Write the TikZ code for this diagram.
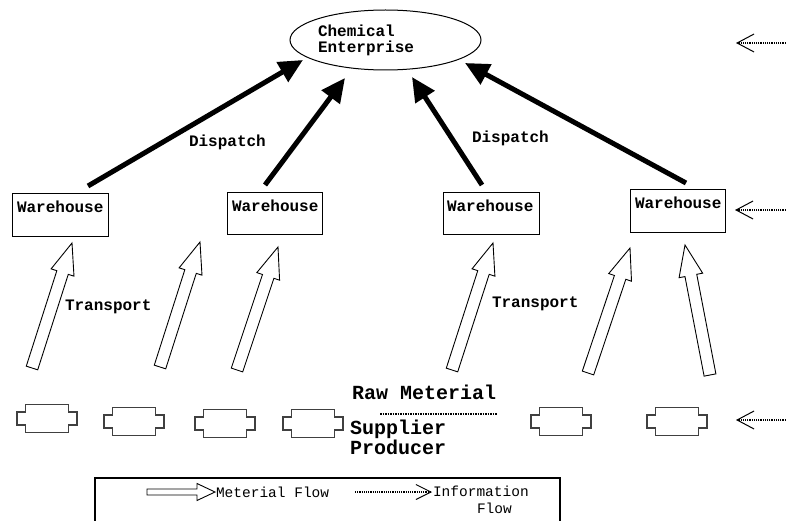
\documentclass[tikz,border=0pt]{standalone}
\usepackage{fontspec}
\setmonofont{Liberation Mono}
\usetikzlibrary{arrows.meta,calc,shapes.geometric}
\newcommand{\harrow}[6]{% name, tail, tip, shaft half, head half, head length
  \coordinate (#1-b) at ($(#3)!#6!(#2)$);
  \draw[hollow] ($(#2)!#4!90:(#3)$) -- ($(#1-b)!#4!90:(#3)$) -- ($(#1-b)!#5!90:(#3)$) -- (#3)
     -- ($(#1-b)!#5!-90:(#3)$) -- ($(#1-b)!#4!-90:(#3)$) -- ($(#2)!#4!-90:(#3)$) -- cycle;
}
\begin{document}
\begin{tikzpicture}[x=1pt,y=-1pt,
  every node/.style={inner sep=0pt, outer sep=0pt},
  lbl/.style={font=\ttfamily\bfseries\fontsize{16}{16}\selectfont, anchor=west},
  big/.style={font=\ttfamily\bfseries\fontsize{20}{20}\selectfont, anchor=west},
  leg/.style={font=\ttfamily\fontsize{14.5}{14.5}\selectfont, anchor=west},
  whbox/.style={draw, line width=1pt, minimum width=96pt, minimum height=42pt},
  dispatch/.style={line width=5pt, -{Triangle[length=24pt,width=22pt]}},
  info/.style={densely dotted, line width=1.2pt, -{Straight Barb[length=17pt,width=18pt,line width=1pt]}},
  hollow/.style={draw, line width=0.9pt, fill=white, line join=miter},
  supp/.style={draw=black!75, line width=1.2pt},
  supplier/.pic={\draw[supp] (-21.5,-14) -- (21.5,-14) -- (21.5,-6.5) -- (30,-6.5) -- (30,6.5) -- (21.5,6.5) -- (21.5,14) -- (-21.5,14) -- (-21.5,6.5) -- (-30,6.5) -- (-30,-6.5) -- (-21.5,-6.5) -- cycle;}]
\useasboundingbox (0,0) rectangle (786,521);
\fill[white] (0,0) rectangle (786,521);

% enterprise
\node[draw, ellipse, line width=1pt, minimum width=191pt, minimum height=60pt] (E) at (385.5,40) {};
\node[lbl, align=left, anchor=north west] (Et) at (318,25) {Chemical\\Enterprise};

% warehouses
\node[whbox] (W1) at (60,215) {};
\node[whbox, minimum width=95pt, minimum height=41pt] (W2) at (274.5,213.5) {};
\node[whbox, minimum height=41pt] (W3) at (491,213.5) {};
\node[whbox, minimum width=95pt] (W4) at (677.5,211) {};
\node[lbl] (W1t) at (17,207) {Warehouse};
\node[lbl] (W2t) at (232,206) {Warehouse};
\node[lbl] (W3t) at (447,206) {Warehouse};
\node[lbl] (W4t) at (635,203) {Warehouse};

% dispatch arrows
\coordinate (d1s) at (88,186);  \coordinate (d1e) at (303,60);
\coordinate (d2s) at (265,185); \coordinate (d2e) at (345,78);
\coordinate (d3s) at (482,185); \coordinate (d3e) at (412,77);
\coordinate (d4s) at (686,183); \coordinate (d4e) at (465,63);
\draw[dispatch] (d1s) -- (d1e);
\draw[dispatch] (d2s) -- (d2e);
\draw[dispatch] (d3s) -- (d3e);
\draw[dispatch] (d4s) -- (d4e);
\node[lbl] (D1) at (189,142) {Dispatch};
\node[lbl] (D2) at (472,138) {Dispatch};

% transport arrows
\coordinate (t1s) at (32,368);  \coordinate (t1e) at (72,243);
\coordinate (t2s) at (160,367); \coordinate (t2e) at (200,242);
\coordinate (t3s) at (237,370); \coordinate (t3e) at (278,247);
\coordinate (t4s) at (452,370); \coordinate (t4e) at (493,243);
\coordinate (t5s) at (588,373); \coordinate (t5e) at (630,248);
\coordinate (t6s) at (710,375); \coordinate (t6e) at (685,245);
\harrow{h1}{t1s}{t1e}{6pt}{12pt}{31pt}
\harrow{h2}{t2s}{t2e}{6pt}{12pt}{31pt}
\harrow{h3}{t3s}{t3e}{6pt}{12pt}{31pt}
\harrow{h4}{t4s}{t4e}{6pt}{12pt}{31pt}
\harrow{h5}{t5s}{t5e}{6pt}{12pt}{31pt}
\harrow{h6}{t6s}{t6e}{6pt}{12pt}{31pt}
\node[lbl] (T1) at (65,307) {Transport};
\node[lbl] (T2) at (492,304) {Transport};

% suppliers
\pic (s1) at (47,418.5) {supplier};
\pic (s2) at (134,421.5) {supplier};
\pic (s3) at (225,423.5) {supplier};
\pic (s4) at (313,423.5) {supplier};
\pic (s5) at (561,421.5) {supplier};
\pic (s6) at (677,421.5) {supplier};
\node[big] (RM) at (352,392) {Raw Meterial};
\coordinate (dl1) at (380,414); \coordinate (dl2) at (497,414);
\draw[densely dotted, line width=1.5pt] (dl1) -- (dl2);
\node[big, align=left, anchor=north west] (SP) at (350,420) {Supplier\\Producer};

% info arrows
\coordinate (i1s) at (788,43);  \coordinate (i1e) at (736,43);
\coordinate (i2s) at (788,210); \coordinate (i2e) at (735,210);
\coordinate (i3s) at (788,420); \coordinate (i3e) at (736,420);
\draw[info] (i1s) -- (i1e);
\draw[info] (i2s) -- (i2e);
\draw[info] (i3s) -- (i3e);

% legend
\draw[line width=1.5pt] (95,530) -- (95,478) -- (560,478) -- (560,530);
\coordinate (la1) at (147,492); \coordinate (la2) at (215,492);
\harrow{lg}{la1}{la2}{3pt}{8.5pt}{18pt}
\node[leg] (LM) at (216,492) {Meterial Flow};
\coordinate (lb1) at (355,492); \coordinate (lb2) at (432,492);
\draw[densely dotted, line width=1.2pt, -{Straight Barb[length=15pt,width=15pt,line width=1pt]}] (lb1) -- (lb2);
\node[leg] (LI) at (433,491) {Information};
\node[leg] (LF) at (477,508) {Flow};
\end{tikzpicture}
\end{document}
